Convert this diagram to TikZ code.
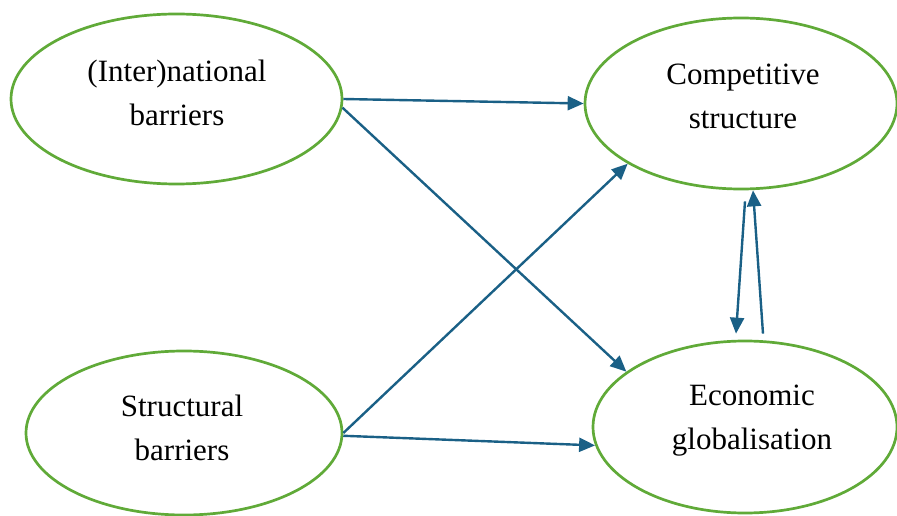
\documentclass[tikz,border=0pt]{standalone}
\usepackage{fontspec}
\setmainfont{Liberation Serif}
\usetikzlibrary{arrows.meta,calc,shapes.geometric}
\definecolor{ellgreen}{RGB}{96,170,56}
\definecolor{arrblue}{RGB}{26,96,134}
\tikzset{
  ell/.style={draw=ellgreen, line width=2.7pt, ellipse, inner sep=0pt},
  lbl/.style={align=center, font=\fontsize{31}{44}\selectfont, inner sep=0pt},
  arr/.style={draw=arrblue, line width=2.4pt, -{Triangle[length=16pt,width=14pt]}}
}
\begin{document}
\begin{tikzpicture}[x=1pt,y=-1pt]
\useasboundingbox (0,0) rectangle (897,516);
\node[ell, minimum width=331pt, minimum height=170pt] (e1) at (176.5,99) {};
\node[ell, minimum width=312pt, minimum height=171pt] (e2) at (741,103.5) {};
\node[ell, minimum width=316pt, minimum height=164pt] (e3) at (184,433) {};
\node[ell, minimum width=304pt, minimum height=172pt] (e4) at (745,427) {};
\node[lbl] (t1) at (177,93) {(Inter)national\\barriers};
\node[lbl] (t2) at (743,96) {Competitive\\structure};
\node[lbl] (t3) at (182,428) {Structural\\barriers};
\node[lbl] (t4) at (752,421) {Economic\\globalisation};
\draw[arr] (e1.east) -- (e2.west);
\draw[arr] (e1.-3.7) -- (e4.155.8);
\draw[arr] (e3.east) -- (e2.208.6);
\draw[arr] (e3.-1.8) -- (e4.187.9);
\coordinate (d1) at ($(e2.south)+(4,11)$);
\coordinate (d2) at ($(e4.north)+(-9,-6)$);
\coordinate (u1) at ($(e4.north)+(18,-6)$);
\coordinate (u2) at ($(e2.south)+(12,0)$);
\draw[arr] (d1) -- (d2);
\draw[arr] (u1) -- (u2);
\end{tikzpicture}
\end{document}
